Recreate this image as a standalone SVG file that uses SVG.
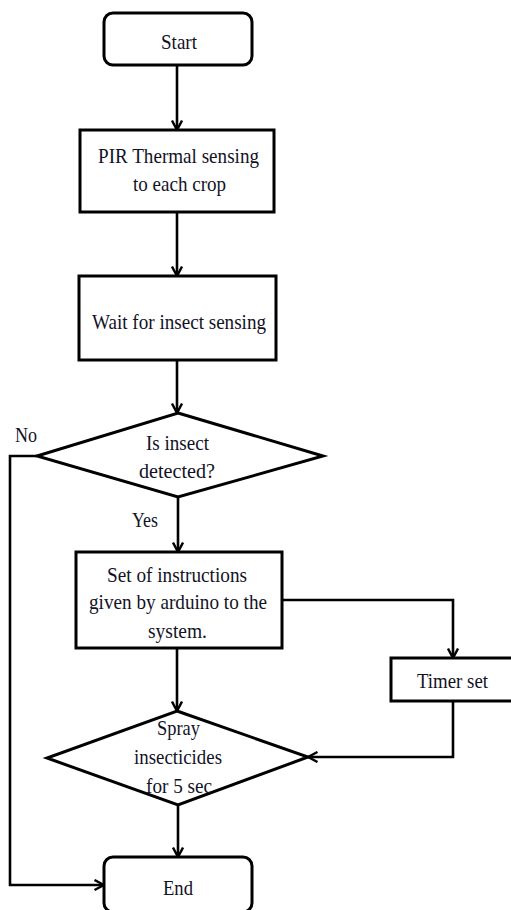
<svg xmlns="http://www.w3.org/2000/svg" width="511" height="910" viewBox="0 0 511 910">
  <style>
    .box { fill: #ffffff; stroke: #000000; stroke-width: 3; }
    .edge { fill: none; stroke: #000000; stroke-width: 2.6; marker-end: url(#arrow); }
    text { font-family: "Liberation Serif", "Times New Roman", serif; font-size: 22px; fill: #121226; }
  </style>
  <defs>
    <marker id="arrow" viewBox="0 0 12 12" refX="11" refY="6" markerWidth="12" markerHeight="12" markerUnits="userSpaceOnUse" orient="auto">
      <path d="M1.5,1 L11,6 L1.5,11" fill="none" stroke="#000000" stroke-width="2.4"/>
    </marker>
  </defs>

  <rect width="511" height="910" fill="#ffffff"/>

  <!-- connectors -->
  <g id="connectors">
    <path class="edge" d="M177,65 V130"/>
    <path class="edge" d="M177,212 V276"/>
    <path class="edge" d="M177,360 V413"/>
    <path class="edge" d="M178,497 V552"/>
    <path class="edge" d="M37,456 H10 V885 H104"/>
    <path class="edge" d="M282,600 H453 V658"/>
    <path class="edge" d="M453,701 V757 H308"/>
    <path class="edge" d="M177,648 V711"/>
    <path class="edge" d="M178,805 V857"/>
  </g>

  <!-- branch labels -->
  <g id="labels">
    <text x="15" y="442" textLength="22" lengthAdjust="spacingAndGlyphs">No</text>
    <text x="132" y="527" textLength="26" lengthAdjust="spacingAndGlyphs">Yes</text>
  </g>

  <g id="start">
    <rect class="box" x="104" y="13" width="148" height="52" rx="9"/>
    <text x="161" y="49" textLength="36" lengthAdjust="spacingAndGlyphs">Start</text>
  </g>

  <g id="pir-sensing">
    <rect class="box" x="80" y="130" width="194" height="82"/>
    <text x="98" y="163" textLength="161" lengthAdjust="spacingAndGlyphs">PIR Thermal sensing</text>
    <text x="133" y="191" textLength="93" lengthAdjust="spacingAndGlyphs">to each crop</text>
  </g>

  <g id="wait">
    <rect class="box" x="79" y="276" width="197" height="84"/>
    <text x="92" y="329" textLength="174" lengthAdjust="spacingAndGlyphs">Wait for insect sensing</text>
  </g>

  <g id="detected">
    <polygon class="box" points="178,413 323,456 178,497 37,456"/>
    <text x="146" y="450" textLength="63" lengthAdjust="spacingAndGlyphs">Is insect</text>
    <text x="139" y="478" textLength="76" lengthAdjust="spacingAndGlyphs">detected?</text>
  </g>

  <g id="instructions">
    <rect class="box" x="76" y="552" width="206" height="96"/>
    <text x="107" y="582" textLength="140" lengthAdjust="spacingAndGlyphs">Set of instructions</text>
    <text x="89" y="609" textLength="178" lengthAdjust="spacingAndGlyphs">given by arduino to the</text>
    <text x="148" y="638" textLength="59" lengthAdjust="spacingAndGlyphs">system.</text>
  </g>

  <g id="timer">
    <rect class="box" x="391" y="658" width="124" height="43"/>
    <text x="417" y="688" textLength="71" lengthAdjust="spacingAndGlyphs">Timer set</text>
  </g>

  <g id="spray">
    <polygon class="box" points="177,711 308,757 178,805 47,758"/>
    <text x="157" y="735" textLength="43" lengthAdjust="spacingAndGlyphs">Spray</text>
    <text x="134" y="764" textLength="88" lengthAdjust="spacingAndGlyphs">insecticides</text>
    <text x="146" y="793" textLength="66" lengthAdjust="spacingAndGlyphs">for 5 sec</text>
  </g>

  <g id="end">
    <rect class="box" x="104" y="857" width="148" height="55" rx="9"/>
    <text x="163" y="895" textLength="30" lengthAdjust="spacingAndGlyphs">End</text>
  </g>
</svg>
